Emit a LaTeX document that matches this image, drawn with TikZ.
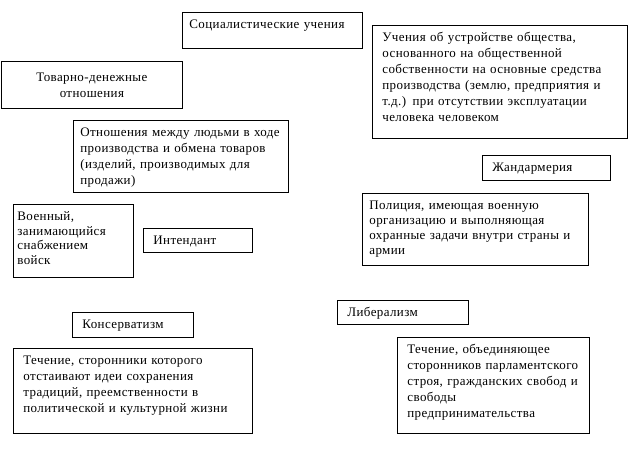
\documentclass[tikz,border=0pt]{standalone}
\usepackage{fontspec}
\setmainfont{Liberation Serif}[LetterSpace=3]
\usetikzlibrary{positioning}
\tikzset{
  every node/.style={font=\fontsize{13}{16}\selectfont},
  term/.style={
    draw=black, line width=0.8pt, anchor=north west,
    align=left, inner xsep=10pt, inner ysep=7.5pt, text height=9pt
  },
  heading/.style={
    draw=black, line width=0.8pt, anchor=north west,
    align=center, inner sep=2pt
  },
  tight/.style={font=\fontsize{13}{14.5}\selectfont},
}
\begin{document}
\begin{tikzpicture}[x=1pt, y=-1pt]
        \fill[white] (0,0) rectangle (637,457);
        \useasboundingbox (0,0) rectangle (637,457);
        % terms
        \node[term, inner xsep=7pt, text width=166pt, text depth=12pt] (soc) at (182,12) {Социалистические учения};
        \node[heading, text width=170pt, minimum width=181pt, minimum height=47pt] (tovar) at (1,61) {Товарно-денежные\\ отношения};
        \node[term, text width=89pt, text depth=0pt] (intend) at (143,228) {Интендант};
        \node[term, text width=108pt, text depth=1pt] (zhand) at (482,155) {Жандармерия};
        \node[term, text width=101pt, text depth=1pt] (kons) at (72,312) {Консерватизм};
        \node[term, text width=111pt, text depth=0pt] (liber) at (337,300) {Либерализм};
        % definitions
        \node[term, text width=235pt, text depth=89pt] (socdef) at (372,25) {Учения об устройстве общества,\\ основанного на общественной\\ собственности на основные средства\\ производства (землю, предприятия и\\ т.д.) при отсутствии эксплуатации\\ человека человеком};
        \node[term, inner xsep=7pt, text width=201pt, text depth=48pt] (tovardef) at (73,120) {Отношения между людьми в ходе\\ производства и обмена товаров\\ (изделий, производимых для\\ продажи)};
        \node[term, tight, inner xsep=4pt, text width=112pt, text depth=49pt] (intenddef) at (13,204) {Военный,\\ занимающийся\\ снабжением\\ войск};
        \node[term, inner xsep=7pt, font=\fontsize{13}{15}\selectfont, text width=212pt, text depth=48pt] (zhanddef) at (362,193) {Полиция, имеющая военную\\ организацию и выполняющая\\ охранные задачи внутри страны и\\ армии};
        \node[term, text width=219pt, text depth=61pt] (konsdef) at (13,348) {Течение, сторонники которого\\ отстаивают идеи сохранения\\ традиций, преемственности в\\ политической и культурной жизни};
        \node[term, text width=172pt, text depth=72pt] (liberdef) at (397,337) {Течение, объединяющее\\ сторонников парламентского\\ строя, гражданских свобод и\\ свободы\\ предпринимательства};
\end{tikzpicture}
\end{document}
